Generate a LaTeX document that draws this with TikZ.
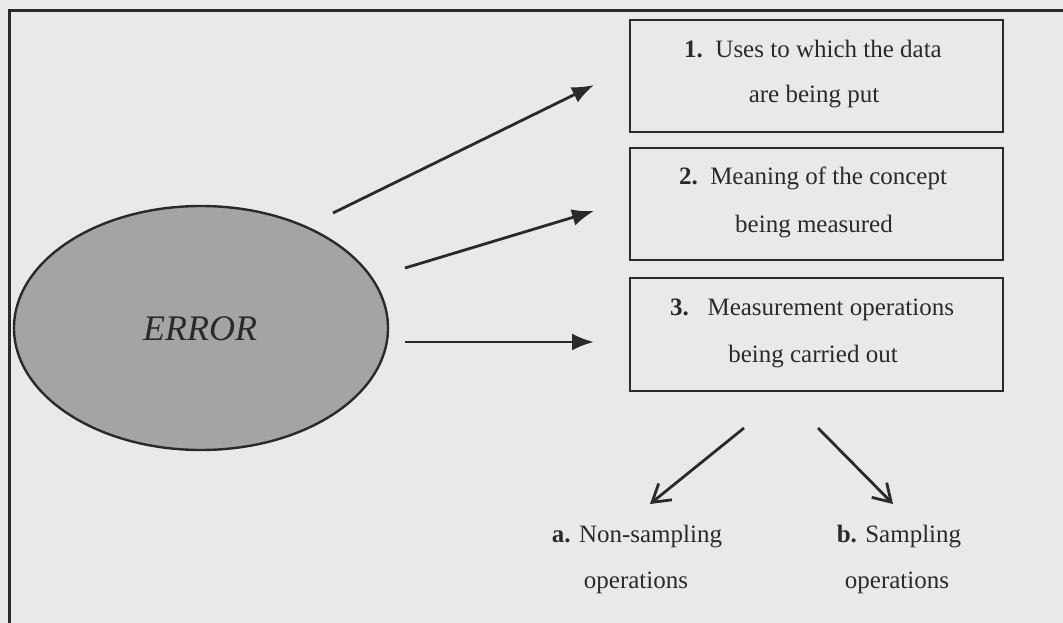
\documentclass[tikz,border=0pt]{standalone}
\usepackage{fontspec}
\setmainfont{Liberation Serif}
\usetikzlibrary{arrows.meta,shapes.geometric}
\definecolor{paper}{HTML}{E9E9E9}
\definecolor{ink}{HTML}{2A2A2A}
\definecolor{blobfill}{HTML}{A4A4A4}
\tikzset{
  itembox/.style={draw=ink, line width=2pt, fill=none, inner sep=0pt, minimum width=373pt},
  boxtext/.style={anchor=base, inner sep=0pt, font=\fontsize{25}{25}\selectfont, text=ink},
  leaftext/.style={anchor=base, inner sep=0pt, font=\fontsize{25}{25}\selectfont, text=ink},
  solidarrow/.style={draw=ink, line width=2.8pt, -{Latex[length=22pt,width=17pt]}},
  openarrow/.style={draw=ink, line width=2.8pt, -{Straight Barb[length=17pt,width=21pt,line width=2.8pt]}},
}
\begin{document}
\begin{tikzpicture}[x=1pt,y=-1pt]
  \useasboundingbox (0,0) rectangle (1063,623);
  \fill[paper] (0,0) rectangle (1063,623);
  % frame lines along top and left
  \draw[ink, line width=3pt] (9.5,623) -- (9.5,11) -- (1063,11);

  % central ellipse
  \node[ellipse, draw=ink, line width=2.4pt, fill=blobfill,
        minimum width=374pt, minimum height=244pt, inner sep=0pt] (err) at (201,328) {};
  \node[anchor=base, inner sep=0pt, font=\itshape\fontsize{36}{36}\selectfont, text=ink] (errlbl) at (200,340) {ERROR};

  % three boxes
  \node[itembox, minimum height=112pt] (b1) at (816.5,76.5) {};
  \node[itembox, minimum height=112pt] (b2) at (816.5,204) {};
  \node[itembox, minimum height=113pt] (b3) at (816.5,334.5) {};

  \node[boxtext] (t1a) at (813,58) {\textbf{1.}\ \ Uses to which the data};
  \node[boxtext] (t1b) at (814,103) {are being put};
  \node[boxtext] (t2a) at (813,185) {\textbf{2.}\ \ Meaning of the concept};
  \node[boxtext] (t2b) at (814,232) {being measured};
  \node[boxtext] (t3a) at (812,315) {\textbf{3.}\ \ \ Measurement operations};
  \node[boxtext] (t3b) at (813,362) {being carried out};

  % sub-items
  \node[leaftext] (la) at (637,542) {\textbf{a.} Non-sampling};
  \node[leaftext] (la2) at (636,588) {operations};
  \node[leaftext] (lb) at (899,542) {\textbf{b.} Sampling};
  \node[leaftext] (lb2) at (897,588) {operations};

  % connector end points
  \coordinate (s1) at (333,213);
  \coordinate (e1) at (594,85);
  \coordinate (s2) at (405,268);
  \coordinate (e2) at (594,211);
  \coordinate (s3) at (405,342);
  \coordinate (e3) at (594,342);
  \coordinate (sa) at (744,428);
  \coordinate (ea) at (650,504);
  \coordinate (sb) at (818,428);
  \coordinate (eb) at (893,504);

  \draw[solidarrow] (s1) -- (e1);
  \draw[solidarrow] (s2) -- (e2);
  \draw[solidarrow] (s3) -- (e3);
  \draw[openarrow] (sa) -- (ea);
  \draw[openarrow] (sb) -- (eb);
\end{tikzpicture}
\end{document}
